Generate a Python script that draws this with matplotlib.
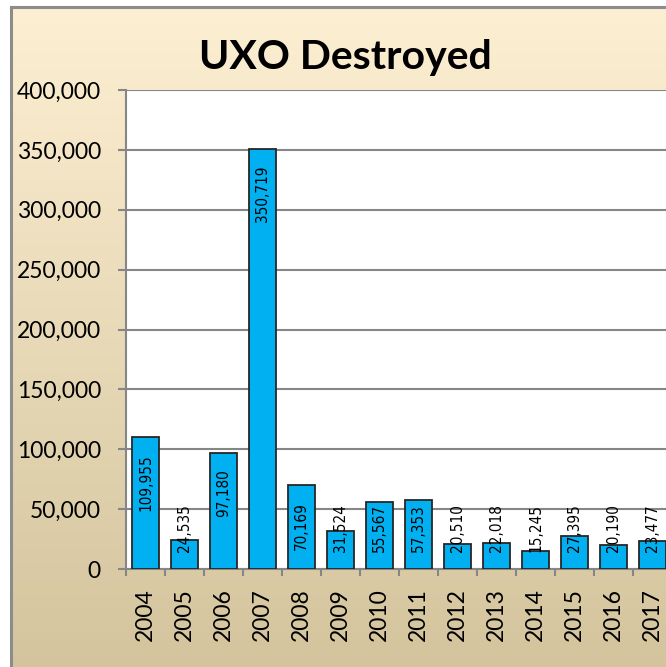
import matplotlib
matplotlib.use("Agg")
import matplotlib.pyplot as plt
import numpy as np
from matplotlib.ticker import FuncFormatter, FixedLocator

years = ["2004", "2005", "2006", "2007", "2008", "2009", "2010",
         "2011", "2012", "2013", "2014", "2015", "2016", "2017"]
destroyed = [109955, 24535, 97180, 350719, 70169, 31524, 55567,
             57353, 20510, 22018, 15245, 27395, 20190, 23477]
yticks = [0, 50000, 100000, 150000, 200000, 250000, 300000, 350000, 400000]

W, H = 666, 667
fig = plt.figure(figsize=(W / 100, H / 100), dpi=100)
fig.patch.set_facecolor("white")

# gradient background panel
bg = fig.add_axes([0, 0, 1, 1], zorder=-5)
bg.set_xlim(0, W)
bg.set_ylim(H, 0)
bg.axis("off")
top_c = np.array([253, 239, 210]) / 255
bot_c = np.array([211, 196, 157]) / 255
t = np.linspace(0, 1, 256)[:, None]
grad = (top_c[None, :] * (1 - t) + bot_c[None, :] * t)[:, None, :]
bg.imshow(grad, extent=[11, W + 5, H + 5, 7], aspect="auto", zorder=0)
bg.plot([11, 11], [7, H + 5], color="#8c8c8c", lw=2.2, zorder=2)
bg.plot([11, W + 5], [7, 7], color="#8c8c8c", lw=2.2, zorder=2)

left, bottom_px, top_px = 126, 569, 90
cat = 39
ax = fig.add_axes([left / W, 1 - bottom_px / H, 14 * cat / W, (bottom_px - top_px) / H])
ax.set_facecolor("white")
x = np.arange(len(years))
bars = ax.bar(x, destroyed, width=0.67, color="#00B0F0", edgecolor="#262626",
              linewidth=1.3, zorder=3)
ax.set_xlim(-0.5, len(years) - 0.5)
ax.set_ylim(0, 400000)
ax.set_yticks(yticks)
ax.yaxis.set_major_formatter(FuncFormatter(lambda v, p: f"{int(v):,}"))
ax.grid(axis="y", color="#868686", lw=1.5, zorder=1)
ax.set_axisbelow(True)
for s in ["top", "right"]:
    ax.spines[s].set_visible(False)
for s in ["left", "bottom"]:
    ax.spines[s].set_color("#868686")
    ax.spines[s].set_linewidth(1.5)
ax.set_xticks(x)
ax.set_xticklabels(years, rotation=90, fontsize=16.5, family="Lato")
ax.xaxis.set_minor_locator(FixedLocator(np.arange(-0.5, len(years), 1.0)))
ax.tick_params(axis="x", which="major", length=0, pad=14)
ax.tick_params(axis="x", which="minor", length=5, color="#868686", width=1.5)
ax.tick_params(axis="y", length=6, color="#868686", width=1.5, pad=12,
               labelsize=16.5)
for lab in ax.get_yticklabels():
    lab.set_family("Lato")

fig.text(345 / W, 1 - 69 / H, "UXO Destroyed", ha="center", va="baseline",
         fontsize=29.5, fontweight="bold", family="Lato")

# value labels: inside end, or at bottom when bar is too short
lab_kw = dict(rotation=90, ha="center", fontsize=11, family="DejaVu Sans",
              fontstretch="condensed", zorder=5)
fig.canvas.draw()
renderer = fig.canvas.get_renderer()
px_per_unit = (bottom_px - top_px) / 400000
for xi, v in zip(x, destroyed):
    txt = ax.annotate(f"{v:,}", (xi, v), xytext=(0, -12), textcoords="offset points",
                      va="top", **lab_kw)
    ext = txt.get_window_extent(renderer)
    length = ext.height
    bar_px = v * px_per_unit
    if bar_px - 16 - length < 17:
        txt.remove()
        ax.annotate(f"{v:,}", (xi, 0), xytext=(0, 12.5), textcoords="offset points",
                    va="bottom", **lab_kw)

fig.savefig("out.png", dpi=100)
